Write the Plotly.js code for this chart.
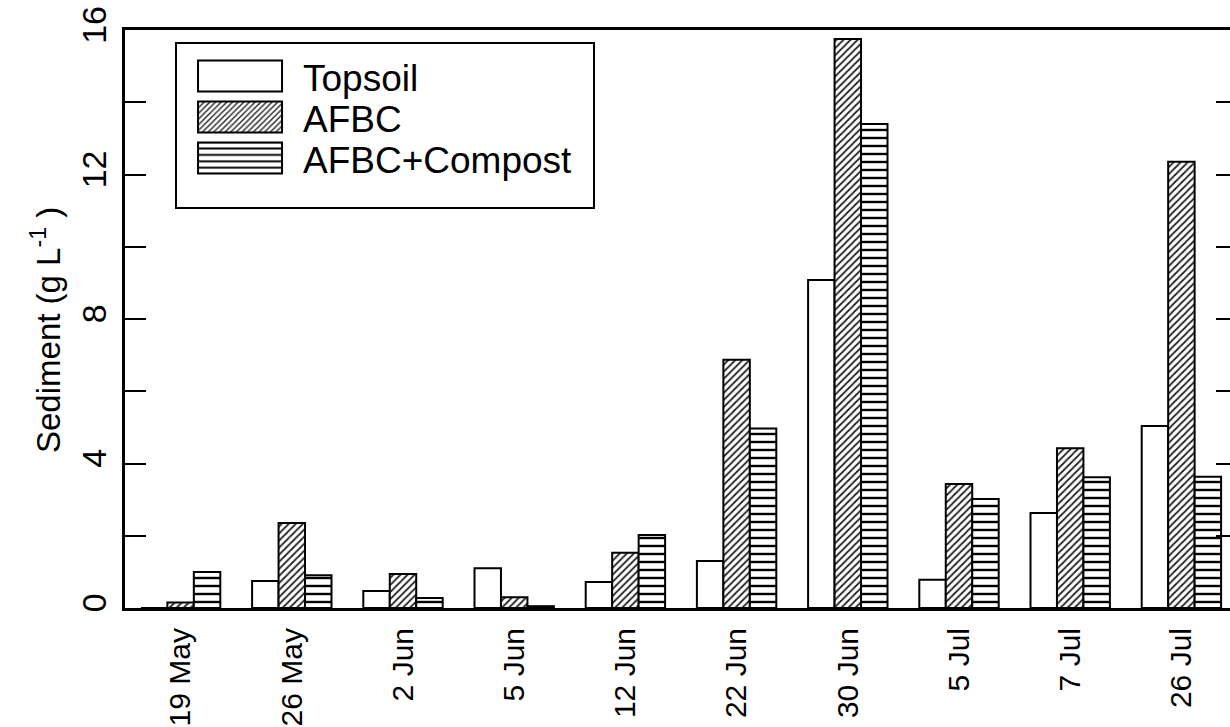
<!DOCTYPE html>
<html>
<head>
<meta charset="utf-8">
<script src="https://cdn.plot.ly/plotly-3.0.1.min.js"></script>
<style>
html, body { margin: 0; padding: 0; overflow: hidden; background: #fff; }
#chart { width: 1240px; height: 727px; }
</style>
</head>
<body>
<div id="chart"></div>
<script>
const dates = ['19 May', '26 May', '2 Jun', '5 Jun', '12 Jun', '22 Jun', '30 Jun', '5 Jul', '7 Jul', '26 Jul'];
const topsoil = [0, 0.75, 0.47, 1.1, 0.72, 1.3, 9.08, 0.78, 2.63, 5.04];
const afbc = [0.15, 2.35, 0.94, 0.3, 1.53, 6.87, 15.75, 3.43, 4.42, 12.35];
const afbcCompost = [1.0, 0.91, 0.28, 0.05, 2.02, 4.97, 13.4, 3.02, 3.62, 3.63];
const seriesNames = ['Topsoil', 'AFBC', 'AFBC+Compost'];
const yTitle = 'Sediment (g L<sup>-1</sup> )';

const font = 'Liberation Sans, Arial, Helvetica, sans-serif';

const traces = [
  {
    type: 'bar', name: seriesNames[0], x: dates, y: topsoil,
    marker: { color: '#ffffff', line: { color: '#000', width: 2 } }
  },
  {
    type: 'bar', name: seriesNames[1], x: dates, y: afbc,
    marker: { color: '#ffffff', line: { color: '#000', width: 2 },
      pattern: { shape: '/', size: 5, solidity: 0.35, fgcolor: '#222', bgcolor: '#ffffff' } }
  },
  {
    type: 'bar', name: seriesNames[2], x: dates, y: afbcCompost,
    marker: { color: '#ffffff', line: { color: '#000', width: 2 },
      pattern: { shape: '-', size: 8, solidity: 0.3, fgcolor: '#000', bgcolor: '#ffffff' } }
  }
];

const layout = {
  width: 1240, height: 727,
  margin: { l: 125, r: 3, t: 30, b: 119 },
  paper_bgcolor: '#fff', plot_bgcolor: '#fff',
  barmode: 'group', bargap: 0.286, bargroupgap: 0,
  showlegend: true,
  legend: {
    x: 0.045, y: 0.98, xanchor: 'left', yanchor: 'top',
    bgcolor: '#fff', bordercolor: '#000', borderwidth: 2,
    font: { family: font, size: 37, color: '#000' },
    itemwidth: 116, tracegroupgap: 0, traceorder: 'normal'
  },
  xaxis: {
    type: 'category', range: [-0.5, 9.5],
    showline: true, linecolor: '#000', linewidth: 3, mirror: true,
    ticks: '', showgrid: false, zeroline: false,
    tickangle: -90, ticklabelstandoff: 5,
    tickfont: { family: font, size: 30, color: '#000' }
  },
  yaxis: {
    range: [0, 16], tickmode: 'linear', tick0: 0, dtick: 4,
    showline: true, linecolor: '#000', linewidth: 3, mirror: 'ticks',
    ticks: 'inside', ticklen: 21, tickwidth: 2, tickcolor: '#000',
    minor: { dtick: 2, ticks: 'inside', ticklen: 21, tickwidth: 2, tickcolor: '#000', showgrid: false },
    showgrid: false, zeroline: false,
    tickangle: -90, ticklabelstandoff: 2,
    tickfont: { family: font, size: 34, color: '#000' }
  },
  annotations: [{
    text: yTitle, xref: 'paper', yref: 'paper', x: 0, y: 0.5,
    xanchor: 'center', yanchor: 'middle', xshift: -79, yshift: -11,
    textangle: -90, showarrow: false,
    font: { family: font, size: 33, color: '#000' }
  }]
};

Plotly.newPlot('chart', traces, layout, { staticPlot: true, displayModeBar: false }).then(function (gd) {
  const items = gd.querySelectorAll('.legend .traces');
  let y0 = null;
  items.forEach(function (tr, i) {
    const p = tr.querySelector('.legendpoints path');
    if (p) {
      p.setAttribute('d', 'M-42,-15.5H42V15.5H-42Z');
      p.style.strokeWidth = '2px';
    }
    const m = /translate\(([-\d.]+)[ ,]+([-\d.]+)\)/.exec(tr.getAttribute('transform') || '');
    if (m) {
      const x = parseFloat(m[1]);
      const y = parseFloat(m[2]);
      if (y0 === null) y0 = y + 2;
      tr.setAttribute('transform', 'translate(' + x + ',' + (y0 + i * 41) + ')');
    }
  });
  const bg = gd.querySelector('.legend .bg');
  if (bg) { bg.setAttribute('height', 165); bg.setAttribute('width', 418); }
});
</script>
</body>
</html>
